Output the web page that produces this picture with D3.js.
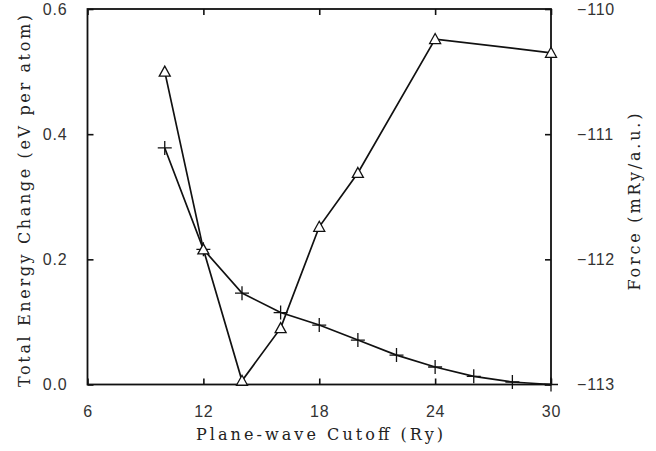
<!DOCTYPE html>
<html><head><meta charset="utf-8">
<script src="https://cdn.jsdelivr.net/npm/d3@7"></script>
<style>body{margin:0;background:#fff;} svg{display:block;}</style>
</head><body>
<svg id="c" width="656" height="451"></svg>
<script>
const energyCutoffs = [10, 12, 14, 16, 18, 20, 22, 24, 26, 28, 30];
const energyValues  = [0.378, 0.216, 0.146, 0.115, 0.095, 0.071, 0.047, 0.028, 0.013, 0.004, 0.0];
const forceCutoffs  = [10, 12, 14, 16, 18, 20, 24, 30];
const forceValues   = [-110.50, -111.92, -112.97, -112.55, -111.74, -111.31, -110.24, -110.35];
const xTicks = [6, 12, 18, 24, 30];
const yLeftTicks = [0.0, 0.2, 0.4, 0.6];
const yRightTicks = [-113, -112, -111, -110];
const xTitle = "Plane-wave Cutoff (Ry)";
const yLeftTitle = "Total Energy Change (eV per atom)";
const yRightTitle = "Force (mRy/a.u.)";

const L = 87.5, R = 551, T = 9, B = 384.5;
const svg = d3.select("#c");
const x = d3.scaleLinear().domain([6, 30]).range([L, R]);
const yL = d3.scaleLinear().domain([0, 0.6]).range([B, T]);
const yR = d3.scaleLinear().domain([-113, -110]).range([B, T]);

const ink = "#111";
const tickFont = "'Liberation Sans', Arial, sans-serif";
const titleFont = "'DejaVu Serif', serif";

// axes with inward ticks
const tl = 6;
svg.append("g").attr("transform", `translate(0,${B})`)
  .call(d3.axisBottom(x).tickValues(xTicks).tickSizeInner(-tl).tickSizeOuter(0).tickPadding(21).tickFormat(d3.format("d")));
svg.append("g").attr("transform", `translate(0,${T})`)
  .call(d3.axisTop(x).tickValues(xTicks).tickSizeInner(-tl).tickSizeOuter(0).tickFormat(""));
svg.append("g").attr("transform", `translate(${L},0)`)
  .call(d3.axisLeft(yL).tickValues(yLeftTicks).tickSizeInner(-tl).tickSizeOuter(0).tickPadding(20).tickFormat(d3.format(".1f")));
svg.append("g").attr("transform", `translate(${R},0)`)
  .call(d3.axisRight(yR).tickValues(yRightTicks).tickSizeInner(-tl).tickSizeOuter(0).tickPadding(26).tickFormat(d => "\u2212" + Math.abs(d)));

svg.selectAll(".domain").remove();
svg.selectAll(".tick line").attr("stroke", ink).attr("stroke-width", 1.6);
svg.selectAll(".tick text").attr("fill", "#333").style("font-family", tickFont)
  .style("font-size", "16px").style("letter-spacing", "0.8px");

// frame
svg.append("rect").attr("x", L).attr("y", T).attr("width", R - L).attr("height", B - T)
  .attr("fill", "none").attr("stroke", ink).attr("stroke-width", 1.8);

// energy series (crosses)
const eData = energyCutoffs.map((c, i) => [c, energyValues[i]]);
svg.append("path").datum(eData)
  .attr("fill", "none").attr("stroke", ink).attr("stroke-width", 1.7)
  .attr("d", d3.line().x(d => x(d[0])).y(d => yL(d[1])));
svg.append("g").selectAll("path").data(eData).join("path")
  .attr("transform", d => `translate(${x(d[0])},${yL(d[1])})`)
  .attr("d", "M-7,0H7M0,-7V7").attr("stroke", ink).attr("stroke-width", 1.3).attr("fill", "none");

// force series (triangles)
const fData = forceCutoffs.map((c, i) => [c, forceValues[i]]);
svg.append("path").datum(fData)
  .attr("fill", "none").attr("stroke", ink).attr("stroke-width", 1.7)
  .attr("d", d3.line().x(d => x(d[0])).y(d => yR(d[1])));
svg.append("g").selectAll("path").data(fData).join("path")
  .attr("transform", d => `translate(${x(d[0])},${yR(d[1])})`)
  .attr("d", "M0,-5.5L5.5,4.5L-5.5,4.5Z").attr("stroke", ink).attr("stroke-width", 1.3).attr("fill", "#fff");

// titles
svg.append("text").attr("x", 319.5).attr("y", 440).attr("text-anchor", "middle")
  .attr("textLength", 247).attr("lengthAdjust", "spacing")
  .style("font-family", titleFont).style("font-size", "16px").attr("fill", "#222").text(xTitle);
svg.append("text").attr("transform", `translate(29.5,201) rotate(-90)`).attr("text-anchor", "middle")
  .attr("textLength", 372).attr("lengthAdjust", "spacing")
  .style("font-family", titleFont).style("font-size", "16px").attr("fill", "#222").text(yLeftTitle);
svg.append("text").attr("transform", `translate(640,202) rotate(-90)`).attr("text-anchor", "middle")
  .attr("textLength", 177).attr("lengthAdjust", "spacing")
  .style("font-family", titleFont).style("font-size", "16px").attr("fill", "#222").text(yRightTitle);
</script>
</body></html>
